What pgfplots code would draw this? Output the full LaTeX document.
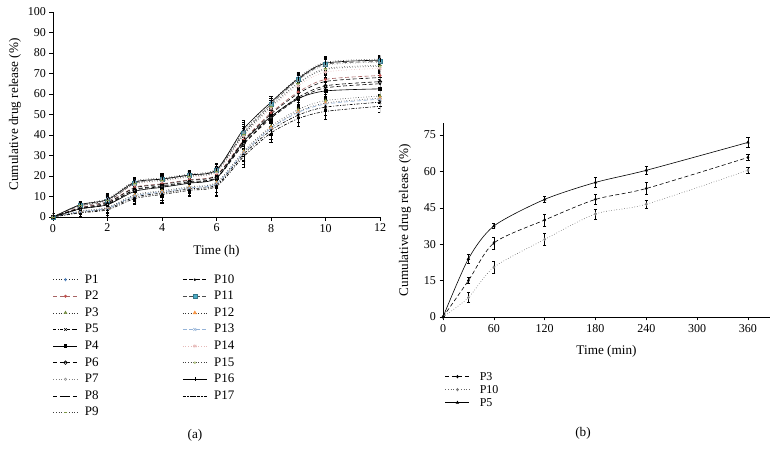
\documentclass[border=0pt]{standalone}
\usepackage{fontspec}
\setmainfont{Liberation Serif}
\usepackage{pgfplots}
\usepackage{pgfplotstable}
\pgfplotsset{compat=1.18}
\definecolor{cBlue}{HTML}{4F81BD}
\definecolor{cRed}{HTML}{C0504D}
\definecolor{cRedLine}{HTML}{A86464}
\definecolor{cGreen}{HTML}{9BBB59}
\definecolor{cTeal}{HTML}{4BACC6}
\definecolor{cOrange}{HTML}{F79646}
\definecolor{cLBlue}{HTML}{95B3D7}
\definecolor{cPink}{HTML}{E6B9B8}
\definecolor{cOlive}{HTML}{B8C98A}

\pgfplotstableread{
t  P1   P2   P3   P4   P5   P6   P7   P8   P9   P10  P11  P12  P13  P14  P15  P16  P17  eA  eB
0  0    0    0    0    0    0    0    0    0    0    0    0    0    0    0    0    0    1   2
1  6    4.6  2.9  4    2.3  4.1  5.7  4.4  5.5  3.9  5.5  2.7  2.6  5.2  5.4  6    2    1.5 2.5
2  9    7.1  4.7  6    4    6.4  8.6  6.9  8.3  6.1  7.5  4.5  4.3  7.9  8.2  8.5  3.5  2.5 4
3  17.5 14.5 10.9 12.5 9.7  13.4 17   14.2 16.5 13.1 16.5 10.5 10.3 15.8 16.2 17   9    2   3
4  19   16.2 12.8 14.5 11.7 15.2 18.5 15.9 18   14.8 18.5 12.4 12.2 17.4 17.8 18.5 11   2.5 4.5
5  21   18.2 14.8 16.5 13.7 17.2 20.5 17.9 20   16.8 20.5 14.4 14.2 19.4 19.8 20.5 13   2   3
6  23.5 20.5 16.9 19   15.7 19.4 23   20.2 22.4 19.1 23   16.5 16.3 21.8 22.2 23   15   2.5 5
7  42   37.6 32.2 37   30.6 36   41.2 37.1 40.4 35.5 41   31.6 31.4 39.5 40.1 43   29.5 4   5
8  56   50.8 44.3 49   42.3 48.8 55   50.2 54   48.2 55   43.6 43.3 53   53.8 56   41   3   4.5
9  68   61   52.4 57.8 49.7 58.4 66.7 60.2 65.4 57.6 67   51.4 51   64   65   67.5 48   2.5 3.5
10 75.5 67.1 56.8 61.5 53.6 64   74   66.1 72.4 63   74.5 55.6 55.1 70.7 72   75   51.5 3   4
12 77   69   59   62.5 56   66   75.5 68   74   65   75.8 58   57.5 72.5 73.5 76.5 54   2   3
}\dataA

\pgfplotstableread{
t   P3   eP3  P10  eP10 P5   eP5
0   0    0.5  0    0.5  0    0.5
30  15   1.2  8    2    24   2
60  30.5 2.5  20.5 2.5  37.5 1
120 40   2.5  32   2.5  48.5 1.2
180 48.5 2    42.5 2    55.5 2
240 53   2.5  46.5 1.5  60.5 1.5
360 65.8 1.2  60.5 1.2  72   2
}\dataB

\pgfplotsset{
  common/.style={
    scale only axis, width=327pt,
    axis lines=left, axis line style={-, line width=0.6pt},
    tick align=outside, major tick length=3.5pt,
    tick style={black, line width=0.6pt},
    ticklabel style={font=\fontsize{12}{12}\selectfont},
    /pgf/number format/assume math mode=true,
    label style={font=\fontsize{13.2}{13.2}\selectfont},
    legend cell align=left,
    legend image code/.code={\draw[mark repeat=2,mark phase=2,##1] plot coordinates {(0pt,0pt) (12pt,0pt) (24pt,0pt)};},
    every axis plot/.append style={line width=0.6pt, mark size=1.2pt, smooth, tension=0.45},
  },
  errs/.style={error bars/.cd, y dir=both, y explicit,
    error bar style={black, line width=0.5pt, solid},
    error mark options={black, rotate=90, mark size=1.6pt, line width=0.5pt, solid}},
}

\begin{document}
\begin{tikzpicture}
\path[use as bounding box] (0,0) rectangle (780pt,450pt);
\begin{axis}[common, at={(53pt,233pt)}, anchor=south west, height=205pt,
  xmin=0, xmax=12, ymin=0, ymax=100,
  xtick={0,2,...,12}, ytick={0,10,...,100},
  xlabel={Time (h)}, ylabel={Cumulative drug release (\%)},
  xlabel style={at={(axis description cs:0.5,-0.166)}, anchor=center},
  ylabel style={at={(axis description cs:-0.116,0.5)}, anchor=center},
  legend columns=2,
  legend style={at={(axis description cs:0,-0.278)}, anchor=north west,
    draw=none, fill=none, inner sep=0pt, row sep=5.6pt,
    nodes={inner sep=0pt, text height=9pt, text depth=2pt, font=\fontsize{13}{13}\selectfont},
    /tikz/every odd column/.append style={column sep=7pt},
    /tikz/every even column/.append style={column sep=84pt}},
]
\addplot[black!85, dotted, mark=diamond*, mark options={solid, fill=cBlue, draw=cBlue}, errs] table[x=t, y=P1, y error=eA] {\dataA};
\addlegendentry{P1}
\addplot[black, dash pattern=on 4pt off 2.5pt, mark=*, mark size=0.9pt, mark options={solid}, errs] table[x=t, y=P10, y error=eB] {\dataA};
\addlegendentry{P10}
\addplot[cRedLine, dash pattern=on 4pt off 2.5pt, mark=*, mark options={solid, fill=cRed, draw=cRed}, errs] table[x=t, y=P2, y error=eA] {\dataA};
\addlegendentry{P2}
\addplot[black!70, dash pattern=on 4pt off 2.5pt, mark=square*, mark size=2pt, mark options={solid, fill=cTeal, draw=cTeal!70!black}, errs] table[x=t, y=P11, y error=eA] {\dataA};
\addlegendentry{P11}
\addplot[black!80, dotted, mark=triangle*, mark size=1.6pt, mark options={solid, fill=cGreen, draw=cGreen!70!black}, errs] table[x=t, y=P3, y error=eB] {\dataA};
\addlegendentry{P3}
\addplot[black!80, dotted, mark=triangle*, mark size=1.8pt, mark options={solid, fill=cOrange, draw=cOrange}, errs] table[x=t, y=P12, y error=eA] {\dataA};
\addlegendentry{P12}
\addplot[black, dash pattern=on 3pt off 1.5pt on 1pt off 1.5pt, mark=x, mark size=1.8pt, mark options={solid}, errs] table[x=t, y=P5, y error=eB] {\dataA};
\addlegendentry{P5}
\addplot[cLBlue, dash pattern=on 4pt off 2.5pt, mark=x, mark size=2pt, mark options={solid, draw=cLBlue}, errs] table[x=t, y=P13, y error=eA] {\dataA};
\addlegendentry{P13}
\addplot[black, solid, mark=square*, mark size=1.3pt, errs] table[x=t, y=P4, y error=eB] {\dataA};
\addlegendentry{P4}
\addplot[cPink, dotted, mark=asterisk, mark size=2pt, mark options={solid, draw=cPink}, errs] table[x=t, y=P14, y error=eA] {\dataA};
\addlegendentry{P14}
\addplot[black, dash pattern=on 4pt off 2.5pt, mark=halfcircle, mark size=1.8pt, mark options={solid}, errs] table[x=t, y=P6, y error=eB] {\dataA};
\addlegendentry{P6}
\addplot[black!75, dotted, mark=*, mark size=1pt, mark options={solid, fill=cOlive, draw=cOlive}, errs] table[x=t, y=P15, y error=eA] {\dataA};
\addlegendentry{P15}
\addplot[black!50, dotted, mark=o, mark size=1.2pt, mark options={solid, draw=black!40}, errs] table[x=t, y=P7, y error=eA] {\dataA};
\addlegendentry{P7}
\addplot[black, solid, mark=|, mark size=2pt, mark options={solid}, errs] table[x=t, y=P16, y error=eA] {\dataA};
\addlegendentry{P16}
\addplot[black, dash pattern=on 4pt off 2.5pt, mark=-, mark size=1.5pt, mark options={solid}, errs] table[x=t, y=P8, y error=eA] {\dataA};
\addlegendentry{P8}
\addplot[black, dash pattern=on 3pt off 1.5pt on 1pt off 1.5pt, mark=-, mark size=1.5pt, mark options={solid}, errs] table[x=t, y=P17, y error=eB] {\dataA};
\addlegendentry{P17}
\addplot[black!75, dotted, mark=-, mark size=1.8pt, mark options={solid, draw=cGreen!80!black}, errs] table[x=t, y=P9, y error=eA] {\dataA};
\addlegendentry{P9}
\end{axis}

\begin{axis}[common, at={(443pt,133pt)}, anchor=south west, height=194pt,
  xmin=0, xmax=386, ymin=0, ymax=80,
  xtick={0,60,...,360}, ytick={0,15,...,75},
  xlabel={Time (min)}, ylabel={Cumulative drug release (\%)},
  xlabel style={at={(axis description cs:0.5,-0.175)}, anchor=center},
  ylabel style={at={(axis description cs:-0.116,0.5)}, anchor=center},
  legend style={at={(axis description cs:0.006,-0.278)}, anchor=north west,
    draw=none, fill=none, inner sep=0pt, row sep=2pt,
    nodes={inner sep=0pt, text height=9pt, text depth=2pt, font=\fontsize{12}{12}\selectfont},
    /tikz/every odd column/.append style={column sep=10pt}},
]
\addplot[black, dash pattern=on 4pt off 2.5pt, mark=diamond*, mark size=1.3pt, mark options={solid}, errs] table[x=t, y=P3, y error=eP3] {\dataB};
\addlegendentry{P3}
\addplot[black!60, dotted, mark=diamond*, mark size=1.3pt, mark options={solid, fill=black!50, draw=black!50}, errs] table[x=t, y=P10, y error=eP10] {\dataB};
\addlegendentry{P10}
\addplot[black, solid, mark=triangle*, mark size=1.4pt, errs] table[x=t, y=P5, y error=eP5] {\dataB};
\addlegendentry{P5}
\end{axis}

\node[font=\fontsize{13.2}{13.2}\selectfont] at (195pt,15pt) {(a)};
\node[font=\fontsize{13.2}{13.2}\selectfont] at (583pt,17pt) {(b)};
\end{tikzpicture}
\end{document}
